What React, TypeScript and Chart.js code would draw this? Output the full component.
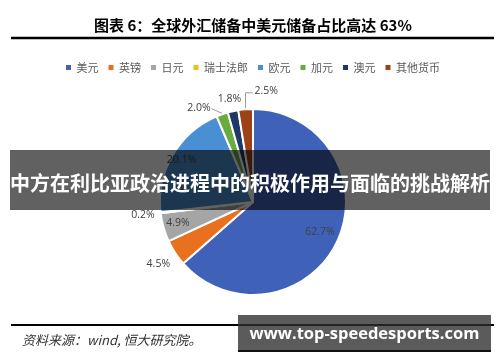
import React, { useEffect, useRef } from "react";
import { Chart, registerables } from "chart.js";
Chart.register(...registerables);

const categories = ["美元", "英镑", "日元", "瑞士法郎", "欧元", "加元", "澳元", "其他货币"];
const shares = [62.7, 4.5, 4.9, 0.2, 20.1, 2.0, 1.8, 2.5];
const sliceColors = ["#3F62B8", "#E8701F", "#A5A5A5", "#F2BC1B", "#4A8FD3", "#6AAB3F", "#1F3864", "#9C4216"];
const percentLabels = shares.map((v) => v.toFixed(1) + "%");
const chartTitle = "图表 6：全球外汇储备中美元储备占比高达 63%";
const sourceNote = "资料来源：wind, 恒大研究院。";
const bannerText = "中方在利比亚政治进程中的积极作用与面临的挑战解析";
const watermarkText = "www.top-speedesports.com";

// label placement styling: radial factor of the outer radius + small pixel nudge
const labelPlacement: { f: number; dx: number; dy: number; leader?: string }[] = [
  { f: 0.79, dx: 0, dy: 0 },
  { f: 1.215, dx: 0, dy: 0 },
  { f: 0.84, dx: 0, dy: 0 },
  { f: 1.19, dx: 0, dy: 0 },
  { f: 0.89, dx: 0, dy: 0 },
  { f: 1.2, dx: -17, dy: 11, leader: "straight" },
  { f: 1.13, dx: -1, dy: 0 },
  { f: 1.2, dx: 22, dy: 0, leader: "elbow" },
];

const labelPlugin = {
  id: "sliceLabels",
  afterDatasetsDraw(chart: any) {
    const ctx = chart.ctx;
    const meta = chart.getDatasetMeta(0);
    ctx.save();
    ctx.font = "10.5px 'Open Sans'";
    ctx.textAlign = "center";
    ctx.textBaseline = "middle";
    meta.data.forEach((arc: any, i: number) => {
      const { x, y, startAngle, endAngle, outerRadius } = arc.getProps(
        ["x", "y", "startAngle", "endAngle", "outerRadius"],
        true
      );
      const mid = (startAngle + endAngle) / 2;
      const p = labelPlacement[i];
      const lx = x + Math.cos(mid) * outerRadius * p.f + p.dx;
      const ly = y + Math.sin(mid) * outerRadius * p.f + p.dy;
      const text = percentLabels[i];
      const w = ctx.measureText(text).width;
      if (p.leader) {
        const ex = x + Math.cos(mid) * (outerRadius + 1);
        const ey = y + Math.sin(mid) * (outerRadius + 1);
        ctx.strokeStyle = "#9a9a9a";
        ctx.lineWidth = 1;
        ctx.beginPath();
        if (p.leader === "elbow") {
          ctx.moveTo(ex, ey);
          ctx.lineTo(ex, ly + 2);
          ctx.lineTo(lx - w / 2 - 2, ly + 2);
        } else {
          ctx.moveTo(lx + w / 2 + 1, ly + 1);
          ctx.lineTo(ex, ey);
        }
        ctx.stroke();
      }
      ctx.fillStyle = "#404040";
      ctx.fillText(text, lx, ly);
    });
    ctx.restore();
  },
};

const framePlugin = {
  id: "frameRules",
  afterDraw(chart: any) {
    const ctx = chart.ctx;
    ctx.save();
    ctx.fillStyle = "#000";
    ctx.fillRect(11, 36.75, 483, 2.5);
    ctx.fillRect(11, 324, 483, 2);
    ctx.fillStyle = "#333";
    ctx.font = "italic 13px 'Noto Sans CJK SC'";
    ctx.textAlign = "left";
    ctx.textBaseline = "middle";
    ctx.fillText(sourceNote, 22, 340);
    ctx.restore();
  },
};

export default function App() {
  const canvasRef = useRef<HTMLCanvasElement | null>(null);

  useEffect(() => {
    if (!canvasRef.current) return;
    const chart = new Chart(canvasRef.current, {
      type: "pie",
      data: {
        labels: categories,
        datasets: [
          {
            data: shares,
            backgroundColor: sliceColors,
            borderColor: "#ffffff",
            borderWidth: 2,
          },
        ],
      },
      options: {
        responsive: false,
        maintainAspectRatio: false,
        animation: false,
        devicePixelRatio: 1,
        radius: 93,
        layout: { padding: { left: 6, right: 0, top: 0, bottom: 41 } },
        plugins: {
          tooltip: { enabled: false },
          title: {
            display: true,
            text: chartTitle,
            color: "#000",
            font: { family: "'Noto Sans CJK SC'", size: 15, weight: "bold" },
            padding: { top: 16, bottom: 18 },
          },
          legend: {
            display: true,
            position: "top",
            labels: {
              color: "#595959",
              font: { family: "'Noto Sans CJK SC'", size: 11 },
              boxWidth: 5,
              boxHeight: 5,
              padding: 10,
              generateLabels: (c: any) => {
                const base = (Chart as any).overrides.pie.plugins.legend.labels.generateLabels(c);
                return base.map((it: any) => ({ ...it, lineWidth: 0, strokeStyle: "rgba(0,0,0,0)" }));
              },
            },
          },
        },
      } as any,
      plugins: [labelPlugin, framePlugin],
    });
    return () => chart.destroy();
  }, []);

  return (
    <div style={{ position: "fixed", left: 0, top: 0, width: 500, height: 362, background: "#fff", overflow: "hidden" }}>
      <canvas ref={canvasRef} width={500} height={362} style={{ width: 500, height: 362, display: "block" }} />
      <div
        style={{
          position: "absolute",
          left: 10,
          top: 150,
          width: 480,
          height: 60,
          background: "rgba(0,0,0,0.62)",
          color: "#fff",
          fontFamily: "'Noto Sans CJK SC'",
          fontWeight: 700,
          fontSize: 20,
          display: "flex",
          alignItems: "center",
          justifyContent: "center",
          paddingTop: 4,
          boxSizing: "border-box",
          whiteSpace: "nowrap",
        }}
      >
        {bannerText}
      </div>
      <div
        style={{
          position: "absolute",
          left: 238,
          top: 315,
          width: 253,
          height: 37,
          background: "rgba(45,45,45,0.78)",
          borderBottom: "2px solid #111",
          boxSizing: "border-box",
          color: "#fff",
          fontFamily: "'Open Sans'",
          fontWeight: 700,
          fontSize: 16.5,
          display: "flex",
          alignItems: "center",
          justifyContent: "center",
          whiteSpace: "nowrap",
        }}
      >
        {watermarkText}
      </div>
    </div>
  );
}
